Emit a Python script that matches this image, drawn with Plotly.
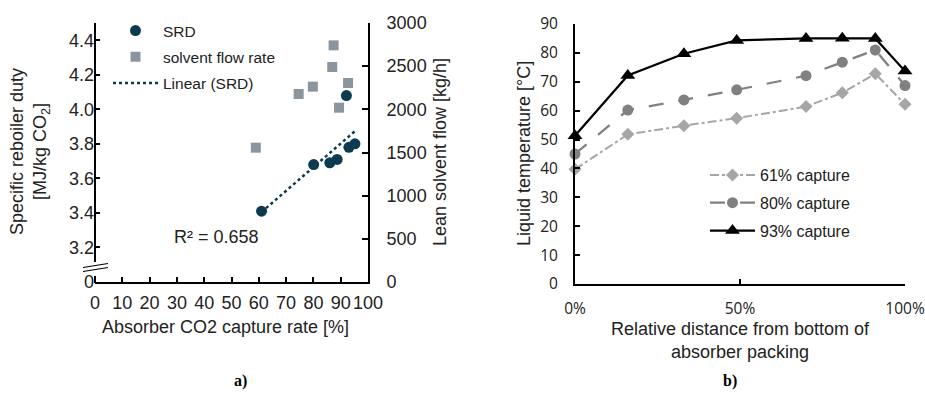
import numpy as np
import plotly.graph_objects as go

W, H = 925, 401


def px(x):
    return x / W


def py(y):
    return 1 - y / H


# ---------------- Panel a data ----------------
srd_capture = [61.0, 80.1, 86.0, 88.7, 92.1, 93.0, 95.2]
srd_values = [3.41, 3.68, 3.69, 3.71, 4.08, 3.78, 3.80]
flow_capture = [58.9, 74.6, 79.8, 86.9, 87.4, 89.4, 92.7]
flow_values = [1556, 2178, 2263, 2490, 2741, 2019, 2305]
a_left_tickvals = [3.0, 3.2, 3.4, 3.6, 3.8, 4.0, 4.2, 4.4]
a_left_ticktext = ["0", "3.2", "3.4", "3.6", "3.8", "4.0", "4.2", "4.4"]
a_x_ticks = [0, 10, 20, 30, 40, 50, 60, 70, 80, 90, 100]
a_right_ticks = [0, 500, 1000, 1500, 2000, 2500, 3000]

# ---------------- Panel b data ----------------
rel_distance = [0.0, 0.16, 0.33, 0.49, 0.70, 0.81, 0.91, 1.0]
temp_61 = [39.7, 51.8, 54.8, 57.4, 61.4, 66.2, 72.8, 62.2]
temp_80 = [45.0, 60.2, 63.7, 67.2, 72.1, 76.8, 81.0, 68.7]
temp_93 = [51.3, 72.2, 79.7, 84.3, 85.0, 85.1, 85.0, 73.7]
b_x_tickvals = [0, 0.5, 1.0]
b_x_ticktext = ["0%", "50%", "100%"]
b_y_ticks = [0, 10, 20, 30, 40, 50, 60, 70, 80, 90]

NAVY = "#0c3b50"
SQGRAY = "#8b959e"
ARIAL = "Liberation Sans"

# linear trendline (least squares on SRD data)
slope, intercept = np.polyfit(srd_capture, srd_values, 1)
trend_x = [min(srd_capture), max(srd_capture)]
trend_y = [slope * v + intercept for v in trend_x]

fig = go.Figure()

fig.add_trace(go.Scatter(
    x=srd_capture, y=srd_values, mode="markers", name="SRD",
    marker=dict(symbol="circle", size=11, color=NAVY),
    xaxis="x", yaxis="y", legend="legend", legendgroup="g1", cliponaxis=False))
fig.add_trace(go.Scatter(
    x=flow_capture, y=flow_values, mode="markers", name="solvent flow rate",
    marker=dict(symbol="square", size=10, color=SQGRAY),
    xaxis="x", yaxis="y2", legend="legend", legendgroup="g2", cliponaxis=False))
fig.add_trace(go.Scatter(
    x=trend_x, y=trend_y, mode="lines", name="Linear (SRD)",
    line=dict(color=NAVY, width=2.5, dash="dot"),
    xaxis="x", yaxis="y", legend="legend", legendgroup="g3"))

fig.add_trace(go.Scatter(
    x=rel_distance, y=temp_61, mode="lines+markers", name="61% capture",
    line=dict(color="#a6a6a6", width=2, dash="dashdot"),
    marker=dict(symbol="diamond", size=10, color="#a6a6a6"),
    xaxis="x2", yaxis="y3", legend="legend2", legendgroup="h1", cliponaxis=False))
fig.add_trace(go.Scatter(
    x=rel_distance, y=temp_80, mode="lines+markers", name="80% capture",
    line=dict(color="#808080", width=2.25, dash="longdash"),
    marker=dict(symbol="circle", size=11, color="#808080"),
    xaxis="x2", yaxis="y3", legend="legend2", legendgroup="h2", cliponaxis=False))
fig.add_trace(go.Scatter(
    x=rel_distance, y=temp_93, mode="lines+markers", name="93% capture",
    line=dict(color="#000000", width=2.25),
    marker=dict(symbol="triangle-up", size=13, color="#000000"),
    xaxis="x2", yaxis="y3", legend="legend2", legendgroup="h3", cliponaxis=False))

tickfont_a = dict(family=ARIAL, size=18, color="#222222")
tickfont_b = dict(family="Open Sans", size=15.5, color="#222222")

fig.update_layout(
    width=W, height=H,
    margin=dict(l=0, r=0, t=0, b=0, autoexpand=False),
    paper_bgcolor="white", plot_bgcolor="rgba(0,0,0,0)",
    font=dict(family=ARIAL, color="#222222"),
    xaxis=dict(domain=[px(95), px(368)], range=[0, 100], tickvals=a_x_ticks,
               ticks="inside", ticklen=5, tickwidth=1.5, tickcolor="black",
               showline=True, linecolor="black", linewidth=2, showgrid=False,
               zeroline=False, tickfont=tickfont_a, tickangle=0, anchor="y",
               ticklabelstandoff=3, automargin=False),
    yaxis=dict(domain=[py(282), py(23)], range=[3.0, 4.5], tickvals=a_left_tickvals,
               ticktext=a_left_ticktext, ticks="inside", ticklen=5, tickwidth=1.5,
               tickcolor="black", showline=False, showgrid=False, zeroline=False,
               tickfont=tickfont_a, anchor="x", automargin=False),
    yaxis2=dict(range=[0, 3000], tickvals=a_right_ticks, overlaying="y", side="right",
                anchor="x", ticks="inside", ticklen=6, tickwidth=1.5, tickcolor="black",
                showline=True, linecolor="black", linewidth=2, showgrid=False,
                zeroline=False, tickfont=tickfont_a, ticklabelstandoff=13,
                automargin=False),
    xaxis2=dict(domain=[px(575), px(905)], range=[0, 1], tickvals=b_x_tickvals,
                ticktext=b_x_ticktext, ticks="inside", ticklen=5, tickwidth=1.5,
                tickcolor="black", showline=True, linecolor="black", linewidth=2,
                showgrid=False, zeroline=False, tickfont=tickfont_b, anchor="y3",
                tickangle=0, ticklabelstandoff=9, automargin=False),
    yaxis3=dict(domain=[py(284), py(24)], range=[0, 90], tickvals=b_y_ticks,
                ticks="inside", ticklen=5, tickwidth=1.5, tickcolor="black",
                showline=True, linecolor="black", linewidth=2, showgrid=False,
                zeroline=False, tickfont=tickfont_b, anchor="x2", ticklabelstandoff=12,
                automargin=False),
    legend=dict(x=px(108), y=py(14), xanchor="left", yanchor="top",
                bgcolor="rgba(0,0,0,0)", borderwidth=0, itemwidth=45,
                tracegroupgap=3, font=dict(family=ARIAL, size=15.5, color="#222222")),
    legend2=dict(x=px(705), y=py(158), xanchor="left", yanchor="top",
                 bgcolor="rgba(0,0,0,0)", borderwidth=0, itemwidth=45,
                 tracegroupgap=4, font=dict(family=ARIAL, size=16, color="#222222")),
    showlegend=True,
)

# left axis of panel a drawn with a break
line_style = dict(color="black", width=2)
fig.add_shape(type="line", xref="paper", yref="paper", x0=px(95), x1=px(95),
              y0=py(262), y1=py(23), line=line_style)
fig.add_shape(type="line", xref="paper", yref="paper", x0=px(95), x1=px(95),
              y0=py(283), y1=py(276), line=line_style)
fig.add_shape(type="line", xref="paper", yref="paper", x0=px(83), x1=px(108),
              y0=py(267.5), y1=py(263.5), line=dict(color="black", width=1.2))
fig.add_shape(type="line", xref="paper", yref="paper", x0=px(83), x1=px(108),
              y0=py(271.5), y1=py(267.5), line=dict(color="black", width=1.2))

title_font = dict(family=ARIAL, size=18, color="#222222")
ann = [
    dict(x=px(30), y=py(152), text="Specific reboiler duty<br>[MJ/kg CO<sub>2</sub>]",
         textangle=-90, font=title_font),
    dict(x=px(440), y=py(152), text="Lean solvent flow [kg/h]", textangle=-90,
         font=title_font),
    dict(x=px(225), y=py(327), text="Absorber CO2 capture rate [%]", font=title_font),
    dict(x=px(216), y=py(237), text="R² = 0.658", font=dict(family=ARIAL, size=18, color="#222222")),
    dict(x=px(524), y=py(154), text="Liquid temperature [°C]", textangle=-90,
         font=title_font),
    dict(x=px(740), y=py(340), text="Relative distance from bottom of<br>absorber packing",
         font=title_font),
    dict(x=px(240), y=py(381), text="<b>a)</b>",
         font=dict(family="Liberation Serif", size=16, color="black")),
    dict(x=px(730), y=py(381), text="<b>b)</b>",
         font=dict(family="Liberation Serif", size=16, color="black")),
]
for a in ann:
    fig.add_annotation(xref="paper", yref="paper", showarrow=False,
                       xanchor="center", yanchor="middle", **a)

fig.write_html("out.html", config={"displayModeBar": False},
               post_script="document.body.style.margin='0';document.body.style.padding='0';")
